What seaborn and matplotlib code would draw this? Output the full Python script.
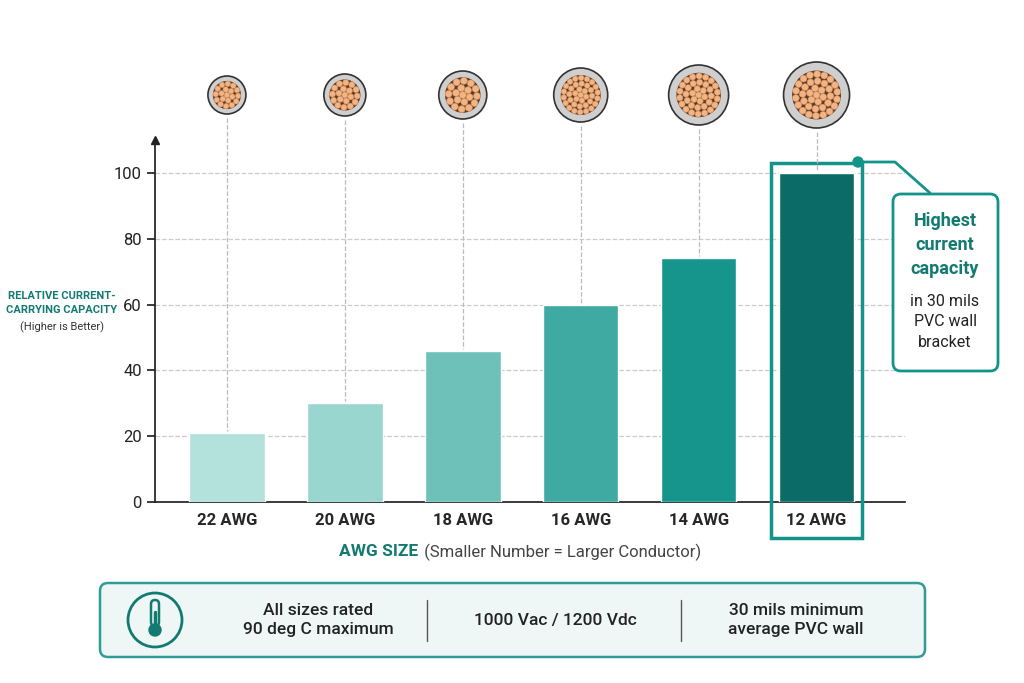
import numpy as np
import pandas as pd
import matplotlib
matplotlib.use('Agg')
import matplotlib.pyplot as plt
import seaborn as sns
from matplotlib.patches import Circle, FancyBboxPatch, Rectangle

sizes = ['22 AWG', '20 AWG', '18 AWG', '16 AWG', '14 AWG', '12 AWG']
capacity = [21, 30, 46, 60, 74, 100]
bar_colors = ['#b3e1dc', '#99d6cf', '#6ec1b9', '#3eaaa2', '#16958d', '#0b6b66']
icon_radius = [19, 21, 24, 27, 30, 33]
strand_rings = [2, 2, 2, 3, 3, 3]

sns.set_theme(style='white')
plt.rcParams['font.family'] = ['Roboto', 'DejaVu Sans']
teal = '#137a72'

fig = plt.figure(figsize=(10.24, 6.83), dpi=100)
ax = fig.add_axes([155/1024, (683-502)/683, 750/1024, 362/683])
df = pd.DataFrame({'size': sizes, 'cap': capacity})
sns.barplot(data=df, x='size', y='cap', hue='size', palette=bar_colors, saturation=1,
            width=0.64, legend=False, ax=ax, zorder=3)
ax.set_xlim(-0.61, 5.75)
ax.set_ylim(0, 110)
ax.set_yticks([0, 20, 40, 60, 80, 100])
ax.tick_params(axis='y', labelsize=12, length=6, color='#222', left=True, colors='#222')
ax.tick_params(axis='x', length=0, labelsize=12, pad=8)
for t in ax.get_xticklabels():
    t.set_fontweight('bold')
ax.grid(axis='y', linestyle='--', color='#cccccc', lw=0.9, zorder=0)
for s in ['top', 'right']:
    ax.spines[s].set_visible(False)
ax.spines['left'].set_color('#222')
ax.spines['bottom'].set_color('#222')
ax.plot(0, 1, '^', color='#222', ms=6, transform=ax.transAxes, clip_on=False)
ax.set_xlabel('')
ax.set_ylabel('')

# overlay in pixel coords
ov = fig.add_axes([0, 0, 1, 1], zorder=5)
ov.set_xlim(0, 1024)
ov.set_ylim(683, 0)
ov.axis('off')
ov.patch.set_alpha(0)

fig.canvas.draw()
def to_px(x, y):
    px, py = ax.transData.transform((x, y))
    return px, 683 - py

icon_y = 95
for i, (cap, r, n) in enumerate(zip(capacity, icon_radius, strand_rings)):
    cx, top = to_px(i, cap)
    ov.plot([cx, cx], [icon_y + r + 4, top - 2], ls='--', color='#bbbbbb', lw=0.9)
    ov.add_patch(Circle((cx, icon_y), r, fc='#cfcfcf', ec='#333', lw=1.2))
    core = r * 0.74
    ov.add_patch(Circle((cx, icon_y), core, fc='#5a3b28', ec='none'))
    sr = core / (2 * n + 1)
    for ring in range(n + 1):
        k = max(1, 6 * ring)
        for j in range(k):
            a = 2 * np.pi * j / k + ring * 0.3
            ov.add_patch(Circle((cx + 2 * sr * ring * np.cos(a), icon_y + 2 * sr * ring * np.sin(a)),
                                sr * 0.97, fc='#f2b482', ec='#d79463', lw=0.4))

# highlight 12 AWG
ov.add_patch(Rectangle((771, 163), 91, 375, fill=False, ec='#14938b', lw=2.5))
ov.plot([858, 895, 930], [162, 162, 193], color='#14938b', lw=2)
ov.add_patch(Circle((858, 162), 5, color='#14938b'))
ov.add_patch(FancyBboxPatch((893, 194), 105, 177, boxstyle='round,pad=0,rounding_size=8',
                            fc='white', ec='#14938b', lw=2))
ov.text(945, 245, 'Highest\ncurrent\ncapacity', ha='center', va='center', fontsize=13,
        fontweight='bold', color=teal, linespacing=1.45)
ov.text(945, 322, 'in 30 mils\nPVC wall\nbracket', ha='center', va='center', fontsize=11.5,
        color='#222', linespacing=1.45)

# y label
ov.text(62, 303, 'RELATIVE CURRENT-\nCARRYING CAPACITY', ha='center', va='center', fontsize=8,
        fontweight='bold', color=teal, linespacing=1.5)
ov.text(62, 327, '(Higher is Better)', ha='center', va='center', fontsize=8, color='#333')

# x label
ov.text(418, 552, 'AWG SIZE', ha='right', va='center', fontsize=12.5, fontweight='bold', color=teal)
ov.text(420, 552, ' (Smaller Number = Larger Conductor)', ha='left', va='center', fontsize=12, color='#444')

# bottom panel
ov.add_patch(FancyBboxPatch((100, 583), 825, 74, boxstyle='round,pad=0,rounding_size=8',
                            fc='#eef7f6', ec='#2f9d95', lw=1.8))
ov.add_patch(Circle((155, 620), 27, fc='none', ec=teal, lw=2))
ov.add_patch(FancyBboxPatch((151, 600), 8, 26, boxstyle='round,pad=0,rounding_size=4',
                            fc='none', ec=teal, lw=1.8))
ov.add_patch(Circle((155, 630), 6, fc=teal, ec=teal))
ov.plot([155, 155], [612, 628], color=teal, lw=2.5)
for sx in [427, 681]:
    ov.plot([sx, sx], [600, 641], color='#555', lw=1)
ov.text(318, 620, 'All sizes rated\n90 deg C maximum', ha='center', va='center', fontsize=12.5,
        color='#222', fontweight='medium', linespacing=1.3)
ov.text(555, 620, '1000 Vac / 1200 Vdc', ha='center', va='center', fontsize=12.5,
        color='#222', fontweight='medium')
ov.text(796, 620, '30 mils minimum\naverage PVC wall', ha='center', va='center', fontsize=12.5,
        color='#222', fontweight='medium', linespacing=1.3)

fig.savefig('out.png', dpi=100)
